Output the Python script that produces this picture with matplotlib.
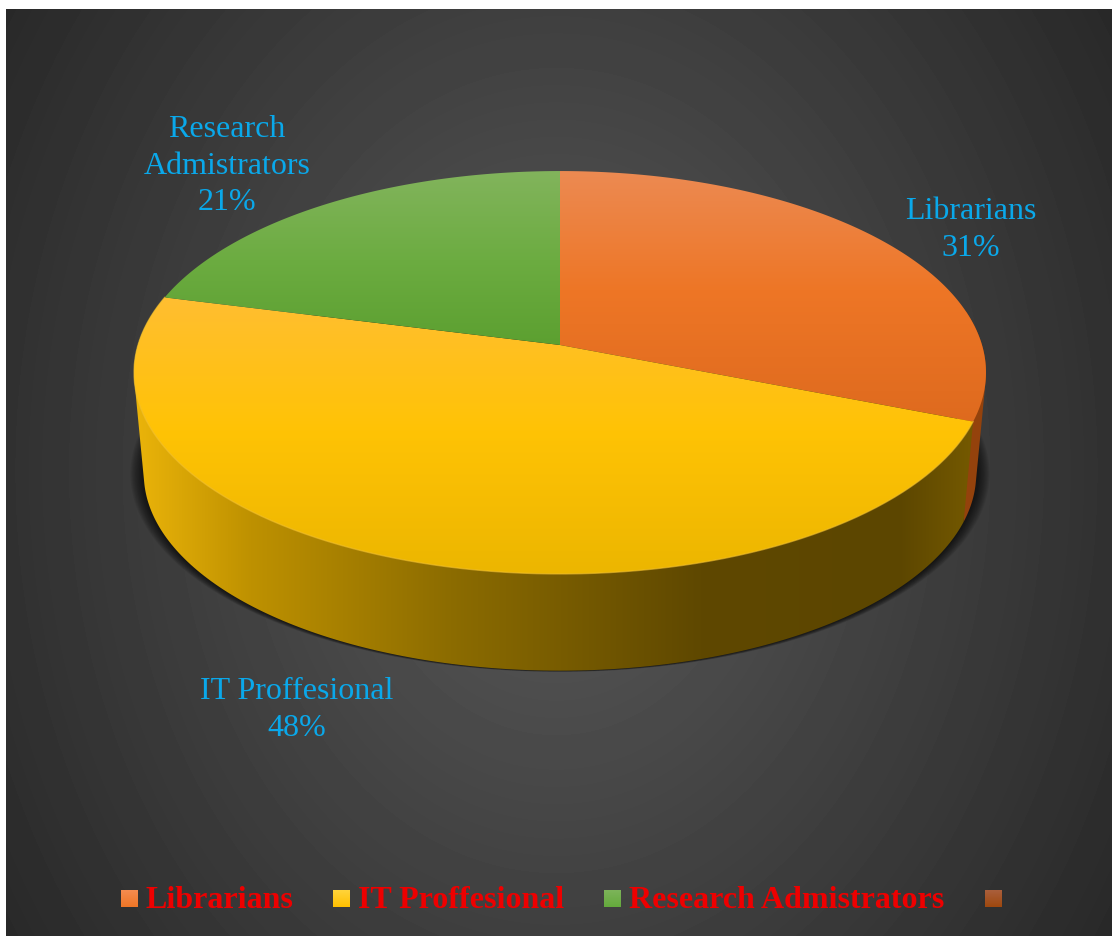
import numpy as np
import matplotlib
matplotlib.use('Agg')
import matplotlib.pyplot as plt
from matplotlib.patches import PathPatch
from matplotlib.path import Path

categories = ['Librarians', 'IT Proffesional', 'Research Admistrators']
label_names = ['Librarians', 'IT Proffesional', 'Research\nAdmistrators']
values = [31, 48, 21]

W, H = 1112, 936

# pie geometry in pixels
CX, APEX_Y = 560, 345
RX, RY = 422, 197.7
TILT = 0.1365
DEPTH = 102
BOTTOM_SCALE = 0.977

# colour stops: (y position, rgb)
orange_stops = [(171, (236, 138, 82)), (290, (238, 118, 38)), (425, (222, 106, 30))]
yellow_stops = [(295, (255, 190, 50)), (430, (255, 195, 5)), (574, (236, 182, 0))]
green_stops = [(171, (130, 180, 92)), (260, (108, 172, 65)), (345, (92, 160, 48))]
wall_stops = [(134, (235, 180, 10)), (250, (190, 145, 0)), (450, (140, 108, 0)),
              (700, (95, 72, 0)), (900, (92, 70, 0)), (985, (120, 92, 0))]

# legend swatches go from a lighter top to the full colour
swatch_tops = [(245, 140, 80), (255, 212, 60), (125, 180, 90), (170, 95, 60)]
swatch_bottoms = [(238, 118, 38), (255, 192, 0), (100, 170, 60), (158, 72, 14)]


def rim(start, end, n=200, scale=1.0, dy=0.0):
    # clockwise degrees from the top of the circle, tilted plane to pixels
    t = np.radians(np.linspace(start, end, n))
    u, v = np.sin(t), np.cos(t)
    w = 1 + TILT * v
    return np.column_stack([CX + scale * RX * u / w, APEX_Y + dy - scale * RY * v / w])


def hull(points):
    # monotone chain, keeps the side of the disc solid at the tangent edges
    pts = sorted(map(tuple, points))

    def half(seq):
        out = []
        for p in seq:
            while len(out) > 1 and ((out[-1][0] - out[-2][0]) * (p[1] - out[-2][1])
                                    - (out[-1][1] - out[-2][1]) * (p[0] - out[-2][0])) <= 0:
                out.pop()
            out.append(p)
        return out[:-1]

    return np.array(half(pts) + half(pts[::-1]))


def wall(start, end):
    return hull(np.vstack([rim(start, end), rim(start, end, 200, BOTTOM_SCALE, DEPTH)]))


def ramp(stops, size=256):
    pos = np.linspace(stops[0][0], stops[-1][0], size)
    xs = [s[0] for s in stops]
    return np.stack([np.interp(pos, xs, [s[1][i] for s in stops]) for i in range(3)], axis=-1) / 255


def gradient_fill(ax, verts, stops, vertical=True, z=2):
    path = Path(np.vstack([verts, verts[:1]]), closed=True)
    colors = ramp(stops)
    x0, y0 = verts.min(axis=0)
    x1, y1 = verts.max(axis=0)
    if vertical:
        img = colors[:, None, :]
        extent = (x0 - 1, x1 + 1, stops[-1][0], stops[0][0])
    else:
        img = colors[None, :, :]
        extent = (stops[0][0], stops[-1][0], y1 + 1, y0 - 1)
    im = ax.imshow(img, extent=extent, aspect='auto', zorder=z, interpolation='bilinear')
    im.set_clip_path(PathPatch(path, transform=ax.transData))


fig = plt.figure(figsize=(W / 100, H / 100), dpi=100, facecolor='white')
ax = fig.add_axes([0, 0, 1, 1])

# dark panel with radial shading
yy, xx = np.mgrid[9:H, 6:W]
dist = np.sqrt(((xx - 556) / 700) ** 2 + ((yy - 470) / 900) ** 2)
shade = np.clip(90 - 52 * dist, 38, 90) / 255
ax.imshow(shade, extent=(6, W, H, 9), cmap='gray', vmin=0, vmax=1, aspect='auto', zorder=0)

# soft shadow under the pie, spreads sideways more than downwards
outline = rim(0, 360, 300, BOTTOM_SCALE, DEPTH)
centre = np.array([CX, 474])
for grow in np.linspace(1.0, 0.0, 12):
    pts = centre + (outline - centre) * [1 + 0.032 * grow, 1 + 0.006 * grow]
    ax.add_patch(plt.Polygon(pts, closed=True, color='black', alpha=0.08, lw=0, zorder=1))

# slice boundaries come from the values
edges = np.cumsum([0] + values) / sum(values) * 360

# side wall, only the front part shows
ax.add_patch(plt.Polygon(wall(80, edges[1]), closed=True, color='#94420c', lw=0, zorder=2))
gradient_fill(ax, wall(edges[1], edges[2]), wall_stops, vertical=False, z=2)

# top faces
apex = np.array([[CX, APEX_Y]])
for i, stops in enumerate([orange_stops, yellow_stops, green_stops]):
    verts = np.vstack([apex, rim(edges[i], edges[i + 1])])
    gradient_fill(ax, verts, stops, z=3)

# thin light line along the front rim
front = rim(edges[1], edges[2])
ax.plot(front[:, 0], front[:, 1], color='#f2c030', lw=1.0, alpha=0.6, zorder=4)

# data labels
label_pos = [(971, 230), (297, 710), (227, 166)]
for name, val, (lx, ly) in zip(label_names, values, label_pos):
    ax.text(lx, ly, f'{name}\n{val}%', color='#0aa8ea', family='Liberation Serif',
            fontsize=23, ha='center', va='center', linespacing=1.36, zorder=5)

# legend row, the last swatch has no name
swatch_x = [121, 333, 604, 985]
for sx, top, bottom in zip(swatch_x, swatch_tops, swatch_bottoms):
    box = np.array([[sx, 890], [sx + 17, 890], [sx + 17, 907], [sx, 907]], dtype=float)
    gradient_fill(ax, box, [(890, top), (907, bottom)], z=5)
for sx, name in zip(swatch_x, categories):
    ax.text(sx + 25, 900, name, color='#ee0000', family='Liberation Serif', weight='bold',
            fontsize=23, ha='left', va='center', zorder=5)

ax.set_xlim(0, W)
ax.set_ylim(H, 0)
ax.axis('off')
fig.savefig('out.png', dpi=100, facecolor='white')
